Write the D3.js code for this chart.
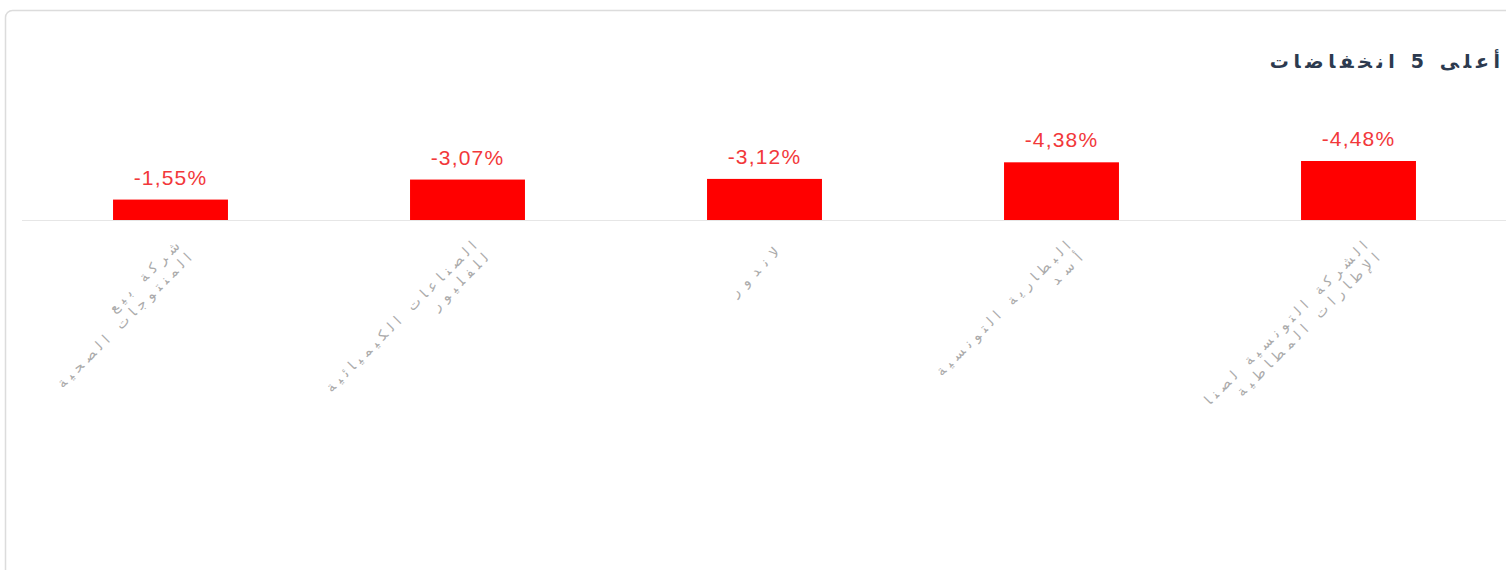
<!DOCTYPE html>
<html><head><meta charset="utf-8">
<script src="https://cdn.jsdelivr.net/npm/d3@7/dist/d3.min.js"></script>
<style>html,body{margin:0;padding:0;background:#fff;overflow:hidden}</style>
</head><body>
<svg id="c" width="1506" height="570"></svg>
<script>
const title = "أعلى 5 انخفاضات";
const categories = [
  ["شركة بيع", "المنتوجات الصحية"],
  ["الصناعات الكيميائية", "للفليور"],
  ["لاندور"],
  ["البطارية التونسية", "أسد"],
  ["الشركة التونسية لصنا", "الإطارات المطاطية"]
];
const values = [-1.55, -3.07, -3.12, -4.38, -4.48];
const valueLabels = ["-1,55%", "-3,07%", "-3,12%", "-4,38%", "-4,48%"];

const svg = d3.select("#c");
svg.append("rect").attr("x",5.5).attr("y",10.5).attr("width",1560).attr("height",620)
  .attr("rx",7).attr("fill","#fff").attr("stroke","#dcdcdc").attr("stroke-width",1.5);

const tt = svg.append("text").attr("x",1500).attr("y",68).attr("text-anchor","end")
  .attr("font-family","DejaVu Sans, sans-serif").attr("font-weight","bold")
  .attr("font-size",19).attr("fill","#2c3a4f")
  .text(title);
const tl = tt.node().getComputedTextLength();
tt.attr("textLength", tl + title.length*4.3).attr("lengthAdjust","spacing");

const idx = d3.range(values.length);
const x = d3.scaleBand().domain(idx).range([22,1507]).padding(0);
const y = d3.scaleLinear().domain([0, 4.48]).range([220, 161]);
const barW = x.bandwidth()*0.387;

const axis = d3.axisBottom(x).tickSize(0).tickFormat(()=>"");
const ag = svg.append("g").attr("transform","translate(0,220)").call(axis);
ag.select(".domain").attr("stroke","#e6e6e6").attr("d","M22,0.5H1506");

svg.selectAll("rect.bar").data(idx).join("rect").attr("class","bar")
  .attr("x", i => x(i)+x.bandwidth()/2-barW/2)
  .attr("width", barW)
  .attr("y", i => y(Math.abs(values[i])))
  .attr("height", i => 220 - y(Math.abs(values[i])))
  .attr("fill","#ff0000");

svg.selectAll("text.val").data(idx).join("text").attr("class","val")
  .attr("x", i => x(i)+x.bandwidth()/2)
  .attr("y", i => y(Math.abs(values[i])) - 15)
  .attr("text-anchor","middle")
  .attr("font-family","Liberation Sans, Arial, sans-serif")
  .attr("font-size",21).attr("letter-spacing",1.2).attr("fill","#f2383a")
  .text(i => valueLabels[i]);

const lh = 17;
const lab = svg.selectAll("g.lab").data(idx).join("g").attr("class","lab")
  .attr("transform", i => `translate(${x(i)+x.bandwidth()/2+16},${253}) rotate(-45)`);
lab.each(function(i){
  const lines = categories[i];
  const g = d3.select(this);
  lines.forEach((l,k)=>{
    const t = g.append("text").attr("text-anchor","end")
      .attr("font-family","DejaVu Sans, sans-serif").attr("font-size",14)
      .attr("fill","#ababab")
      .attr("x",0).attr("y", (k-(lines.length-1)/2)*lh).text(l);
    const len = t.node().getComputedTextLength();
    t.attr("textLength", len + l.length*5).attr("lengthAdjust","spacing");
  });
});
</script>
</body></html>
